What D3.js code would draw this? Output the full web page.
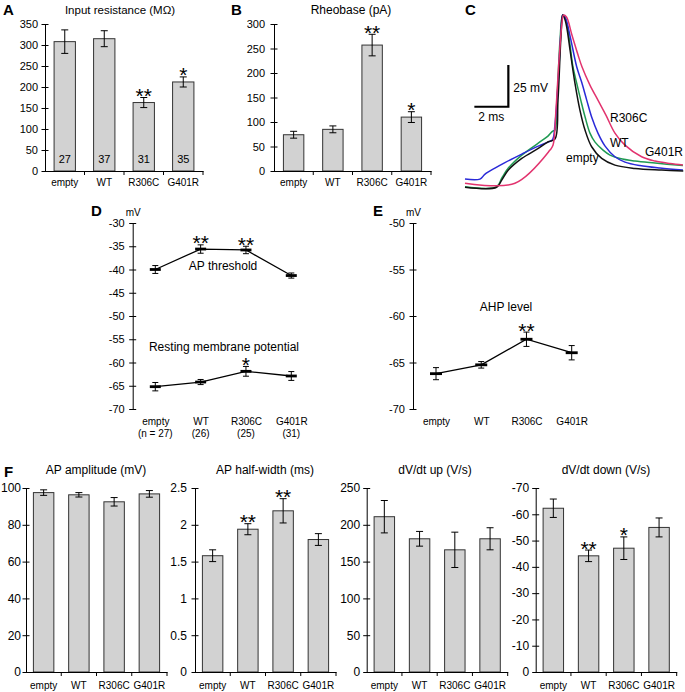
<!DOCTYPE html>
<html><head><meta charset="utf-8">
<script src="https://cdn.jsdelivr.net/npm/d3@7"></script>
<style>
body{margin:0;background:#fff}
svg{display:block}
text{font-family:"Liberation Sans",Arial,Helvetica,sans-serif;fill:#000}
</style>
</head><body>
<svg id="chart" width="685" height="692"></svg>
<script>
// ---------------- data ----------------
const categories = ["empty", "WT", "R306C", "G401R"];

// A: input resistance (MΩ)
const inputResistance = [308, 315, 163, 212];
const inputResistanceErr = [28, 19, 12, 12];
const inputResistanceN = ["27", "37", "31", "35"];
const inputResistanceStars = ["", "", "**", "*"];
const inputResistanceTicks = [0, 50, 100, 150, 200, 250, 300, 350];

// B: rheobase (pA)
const rheobase = [74, 85, 257, 110];
const rheobaseErr = [7, 7, 22, 11];
const rheobaseStars = ["", "", "**", "*"];
const rheobaseTicks = [0, 50, 100, 150, 200, 250, 300];

// C: representative action potentials (time ms, membrane potential mV)
const traceEmpty = [[0,-65.7],[1.86,-65.7],[2.16,-61.4],[2.55,-55.4],[3.34,-48.4],[4.31,-42.4],[4.9,-38.4],[5.29,-36.8],[5.47,-13.4],[5.65,25.6],[5.75,37.6],[5.85,35.8],[5.98,30.6],[6.18,16.6],[6.47,-3.4],[6.76,-19.4],[7.06,-31.4],[7.45,-41.4],[8.04,-48.4],[8.82,-52.4],[10.0,-54.4],[11.57,-55.4],[12.84,-56.0]];
const traceWT = [[0,-60.8],[0.88,-60.8],[1.18,-57.8],[1.76,-54.2],[2.35,-50.9],[3.34,-45.8],[4.31,-41],[4.88,-38.6],[5.15,-37.1],[5.29,-28.4],[5.47,-4.4],[5.65,28.6],[5.75,37.6],[5.91,35.8],[6.18,25],[6.57,6.6],[6.86,-2.6],[7.16,-13.4],[7.47,-24.2],[7.82,-33.2],[8.24,-41],[8.82,-47.4],[9.41,-50.6],[10.29,-52.7],[11.47,-54.2],[12.82,-55.4]];
const traceR306C = [[0,-63.3],[2.94,-63.3],[5.0,-43.4],[5.18,-40.4],[5.35,-19.4],[5.53,10.6],[5.71,33.4],[5.79,37.6],[5.97,36.4],[6.29,25.6],[6.65,13.6],[6.88,6.6],[7.35,-4.4],[7.82,-13.4],[8.29,-22.4],[8.82,-33.2],[9.41,-40.4],[10.39,-47.4],[11.18,-50],[12.06,-51.5],[12.82,-52.4]];
const traceG401R = [[0,-65.4],[1.86,-65.4],[2.16,-60.2],[2.55,-54.2],[3.34,-46.4],[4.31,-39.2],[4.88,-35],[5.16,-32],[5.29,-31.4],[5.44,-7.4],[5.59,22.6],[5.75,37.6],[5.88,36.4],[6.03,30.4],[6.18,19.6],[6.35,6.6],[6.57,-3.2],[6.81,-13.4],[7.06,-23.4],[7.35,-33.2],[7.65,-38.6],[8.12,-43.4],[8.53,-46.4],[9.12,-48.5],[10.0,-50],[11.18,-51.2],[12.82,-52.7]];
const traceNames = ["empty", "WT", "R306C", "G401R"];
const traceColors = ["#111111", "#2a2ad8", "#e2336e", "#1f9a52"];

// D: AP threshold & resting membrane potential (mV)
const apThreshold = [-40.0, -35.6, -35.8, -41.3];
const apThresholdErr = [0.85, 0.9, 0.8, 0.55];
const apThresholdStars = ["", "**", "**", ""];
const restingPotential = [-65.2, -64.2, -61.9, -62.9];
const restingPotentialErr = [0.9, 0.55, 1.05, 0.95];
const restingPotentialStars = ["", "", "*", ""];
const dGroupN = ["(n = 27)", "(26)", "(25)", "(31)"];
const dTicks = [-30, -35, -40, -45, -50, -55, -60, -65, -70];

// E: AHP level (mV)
const ahpLevel = [-66.2, -65.25, -62.5, -63.95];
const ahpLevelErr = [0.65, 0.35, 0.77, 0.77];
const ahpLevelStars = ["", "", "**", ""];
const eTicks = [-50, -55, -60, -65, -70];

// F
const apAmplitude = [97.5, 96.3, 92.5, 96.8];
const apAmplitudeErr = [1.5, 1.2, 2.3, 1.8];
const apAmplitudeTicks = [0, 20, 40, 60, 80, 100];
const apHalfWidth = [1.58, 1.94, 2.19, 1.80];
const apHalfWidthErr = [0.08, 0.075, 0.165, 0.08];
const apHalfWidthStars = ["", "**", "**", ""];
const apHalfWidthTicks = [0, 0.5, 1, 1.5, 2, 2.5];
const dvdtUp = [211, 181, 166, 181];
const dvdtUpErr = [22, 10, 24, 15];
const dvdtUpTicks = [0, 50, 100, 150, 200, 250];
const dvdtDown = [-62.3, -44.2, -47.1, -55.0];
const dvdtDownErr = [3.5, 2.2, 4.3, 3.6];
const dvdtDownStars = ["", "**", "*", ""];
const dvdtDownTicks = [0, -10, -20, -30, -40, -50, -60, -70];

// ---------------- drawing ----------------
const FONT = '"Liberation Sans", Arial, Helvetica, sans-serif';
const svg = d3.select("#chart");
const fmtPlain = d => String(d);
const STAR = 21;

function styleYAxis(ag, gap, fs) {
  ag.attr("font-family", FONT).attr("font-size", fs);
  ag.select(".domain").attr("stroke", "#000").attr("stroke-width", 1);
  ag.selectAll(".tick line").attr("x1", 3.5).attr("x2", -3.5).attr("stroke", "#000");
  ag.selectAll(".tick text").attr("x", -gap).attr("fill", "#000");
}

function text(x, y, s, o = {}) {
  return svg.append("text").attr("x", x).attr("y", y)
    .attr("font-size", o.size || 12)
    .attr("font-weight", o.weight || "normal")
    .attr("text-anchor", o.anchor || "start")
    .attr("fill", o.fill || "#000")
    .text(s);
}

function barPanel(o) {
  const g = svg.append("g");
  const x = d3.scaleBand().domain(categories).range([o.x0, o.x1]);
  const y = d3.scaleLinear().domain(o.domain).range([o.yBot, o.yTop]);
  const bw = x.bandwidth() * o.barFrac;
  const cx = i => x(categories[i]) + x.bandwidth() / 2;

  g.selectAll("rect").data(o.values).join("rect")
    .attr("x", (d, i) => cx(i) - bw / 2)
    .attr("y", d => Math.min(y(d), y(0)))
    .attr("width", bw)
    .attr("height", d => Math.abs(y(d) - y(0)))
    .attr("fill", "#d2d2d2").attr("stroke", "#333").attr("stroke-width", 1);

  o.values.forEach((v, i) => {
    const e = o.errs[i];
    const ya = y(v + e), yb = y(v - e);
    const c = cx(i);
    g.append("line").attr("x1", c).attr("x2", c).attr("y1", ya).attr("y2", yb).attr("stroke", "#000");
    [ya, yb].forEach(yy => g.append("line").attr("x1", c - 3.5).attr("x2", c + 3.5)
      .attr("y1", yy).attr("y2", yy).attr("stroke", "#000"));
    if (o.stars && o.stars[i]) {
      g.append("text").attr("x", c).attr("y", Math.min(ya, yb) + 5.5)
        .attr("text-anchor", "middle").attr("font-size", STAR).text(o.stars[i]);
    }
    if (o.nLabels) {
      g.append("text").attr("x", c).attr("y", o.nY).attr("text-anchor", "middle")
        .attr("font-size", 11).attr("fill", "#333").text(o.nLabels[i]);
    }
  });

  const ag = g.append("g").attr("transform", `translate(${o.x0},0)`)
    .call(d3.axisLeft(y).tickValues(o.ticks).tickFormat(fmtPlain).tickSizeOuter(0));
  styleYAxis(ag, o.labelGap, o.tickFont);

  const xg = g.append("g").attr("transform", `translate(0,${o.yBot})`)
    .call(d3.axisBottom(x).tickSize(0).tickSizeOuter(0).tickPadding(o.xPad));
  xg.attr("font-family", FONT).attr("font-size", 10);
  xg.select(".domain").attr("stroke", "#000");
  xg.selectAll(".tick text").attr("fill", "#000");
  categories.forEach(c => {
    const bx = x(c) + x.bandwidth();
    g.append("line").attr("x1", bx).attr("x2", bx).attr("y1", o.yBot).attr("y2", o.yBot + 4).attr("stroke", "#000");
  });

  text(o.titleX, o.titleY, o.title, { size: o.titleSize || 12, anchor: "middle" });
}

function linePanel(o) {
  const g = svg.append("g");
  const x = d3.scalePoint().domain(categories).range([o.px0, o.px1]);
  const y = d3.scaleLinear().domain(o.domain).range([o.yBot, o.yTop]);

  const ag = g.append("g").attr("transform", `translate(${o.axisX},0)`)
    .call(d3.axisLeft(y).tickValues(o.ticks).tickFormat(fmtPlain).tickSizeOuter(0));
  styleYAxis(ag, o.labelGap, 11);

  o.series.forEach(s => {
    const pts = s.values.map((v, i) => [x(categories[i]), y(v)]);
    g.append("path").attr("d", d3.line()(pts)).attr("fill", "none")
      .attr("stroke", "#000").attr("stroke-width", 1.3);
    s.values.forEach((v, i) => {
      const c = x(categories[i]);
      const ya = y(v + s.errs[i]), yb = y(v - s.errs[i]);
      g.append("line").attr("x1", c).attr("x2", c).attr("y1", ya).attr("y2", yb).attr("stroke", "#000");
      [ya, yb].forEach(yy => g.append("line").attr("x1", c - 3).attr("x2", c + 3)
        .attr("y1", yy).attr("y2", yy).attr("stroke", "#000"));
      g.append("line").attr("x1", c - o.mark).attr("x2", c + o.mark)
        .attr("y1", y(v)).attr("y2", y(v)).attr("stroke", "#000").attr("stroke-width", 2.8);
      if (s.stars[i]) {
        g.append("text").attr("x", c).attr("y", ya + 5.5).attr("text-anchor", "middle")
          .attr("font-size", STAR).text(s.stars[i]);
      }
    });
    text(s.labelX, s.labelY, s.label, { size: 12, anchor: "middle" });
  });

  const xg = g.append("g").attr("transform", `translate(0,${o.yBot})`)
    .call(d3.axisBottom(x).tickSize(0).tickPadding(o.xPad));
  xg.attr("font-family", FONT).attr("font-size", 10);
  xg.select(".domain").remove();
  xg.selectAll(".tick text").attr("fill", "#000");
  if (o.nLabels) {
    categories.forEach((c, i) => {
      g.append("text").attr("x", x(c)).attr("y", o.yBot + o.nDy).attr("text-anchor", "middle")
        .attr("font-size", 10).text(o.nLabels[i]);
    });
  }
  text(o.axisX - 7, o.yTop - 7, "mV", { size: 10 });
}

// ----- A -----
barPanel({ x0: 45, x1: 203, yTop: 24, yBot: 171, domain: [0, 350], ticks: inputResistanceTicks,
  values: inputResistance, errs: inputResistanceErr, stars: inputResistanceStars,
  nLabels: inputResistanceN, nY: 163, barFrac: 0.54, labelGap: 7, tickFont: 11, xPad: 8,
  title: "Input resistance (MΩ)", titleX: 120, titleY: 14, titleSize: 11.5 });
text(3, 15, "A", { size: 15, weight: "bold" });

// ----- B -----
barPanel({ x0: 274, x1: 431, yTop: 24, yBot: 171, domain: [0, 300], ticks: rheobaseTicks,
  values: rheobase, errs: rheobaseErr, stars: rheobaseStars,
  barFrac: 0.52, labelGap: 9, tickFont: 11, xPad: 8,
  title: "Rheobase (pA)", titleX: 351, titleY: 14 });
text(231, 15, "B", { size: 15, weight: "bold" });

// ----- C -----
{
  const xT = d3.scaleLinear().domain([0, 12.9]).range([465, 684.3]);
  const yT = d3.scaleLinear().domain([-65, 35]).range([186.1, 19.4]);
  const line = d3.line().x(d => xT(d[0])).y(d => yT(d[1])).curve(d3.curveCatmullRom.alpha(0.5));
  const traces = [traceEmpty, traceWT, traceR306C, traceG401R];
  const order = [3, 1, 0, 2];
  order.forEach(k => {
    svg.append("path").attr("d", line(traces[k])).attr("fill", "none")
      .attr("stroke", traceColors[k]).attr("stroke-width", 1.5);
  });
  // scale bar: 25 mV / 2 ms
  const sbT = 2.55, sbV = -17.4;
  svg.append("path")
    .attr("d", `M${xT(sbT)},${yT(sbV + 25)}L${xT(sbT)},${yT(sbV)}L${xT(sbT - 2)},${yT(sbV)}`)
    .attr("fill", "none").attr("stroke", "#000").attr("stroke-width", 2.2);
  text(xT(sbT) + 5, 92, "25 mV", { size: 12 });
  text(xT(sbT - 1), 121, "2 ms", { size: 12, anchor: "middle" });
  text(610, 122, traceNames[2], { size: 12, fill: traceColors[2] });
  text(610, 147, traceNames[1], { size: 12, fill: traceColors[1] });
  text(645, 156, traceNames[3], { size: 12, fill: traceColors[3] });
  text(566, 162, traceNames[0], { size: 12, fill: traceColors[0] });
  text(465, 15, "C", { size: 15, weight: "bold" });
}

// ----- D -----
linePanel({ axisX: 132.7, yTop: 223, yBot: 409, domain: [-70, -30], ticks: dTicks, labelGap: 8,
  px0: 155.3, px1: 291.3, mark: 5.5, xPad: 9, nLabels: dGroupN, nDy: 28,
  series: [
    { values: apThreshold, errs: apThresholdErr, stars: apThresholdStars, label: "AP threshold", labelX: 223, labelY: 270 },
    { values: restingPotential, errs: restingPotentialErr, stars: restingPotentialStars, label: "Resting membrane potential", labelX: 224, labelY: 351 }
  ] });
text(91, 216, "D", { size: 15, weight: "bold" });

// ----- E -----
linePanel({ axisX: 413, yTop: 223, yBot: 409, domain: [-70, -50], ticks: eTicks, labelGap: 8,
  px0: 436, px1: 571.7, mark: 6, xPad: 9,
  series: [
    { values: ahpLevel, errs: ahpLevelErr, stars: ahpLevelStars, label: "AHP level", labelX: 506, labelY: 311 }
  ] });
text(373, 216, "E", { size: 15, weight: "bold" });

// ----- F -----
const fTop = 488, fBot = 672;
barPanel({ x0: 26, x1: 167, yTop: fTop, yBot: fBot, domain: [0, 100], ticks: apAmplitudeTicks,
  values: apAmplitude, errs: apAmplitudeErr, barFrac: 0.58, labelGap: 5, tickFont: 12, xPad: 10,
  title: "AP amplitude (mV)", titleX: 96, titleY: 474 });
barPanel({ x0: 195, x1: 336, yTop: fTop, yBot: fBot, domain: [0, 2.5], ticks: apHalfWidthTicks,
  values: apHalfWidth, errs: apHalfWidthErr, stars: apHalfWidthStars, barFrac: 0.58, labelGap: 8, tickFont: 12, xPad: 10,
  title: "AP half-width (ms)", titleX: 265, titleY: 474 });
barPanel({ x0: 366.7, x1: 507.7, yTop: fTop, yBot: fBot, domain: [0, 250], ticks: dvdtUpTicks,
  values: dvdtUp, errs: dvdtUpErr, barFrac: 0.58, labelGap: 6.5, tickFont: 12, xPad: 10,
  title: "dV/dt up (V/s)", titleX: 435, titleY: 474 });
barPanel({ x0: 535.7, x1: 676.7, yTop: fTop, yBot: fBot, domain: [0, -70], ticks: dvdtDownTicks,
  values: dvdtDown, errs: dvdtDownErr, stars: dvdtDownStars, barFrac: 0.58, labelGap: 6.5, tickFont: 12, xPad: 10,
  title: "dV/dt down (V/s)", titleX: 606, titleY: 474 });
text(4, 477, "F", { size: 15, weight: "bold" });
</script>
</body></html>
